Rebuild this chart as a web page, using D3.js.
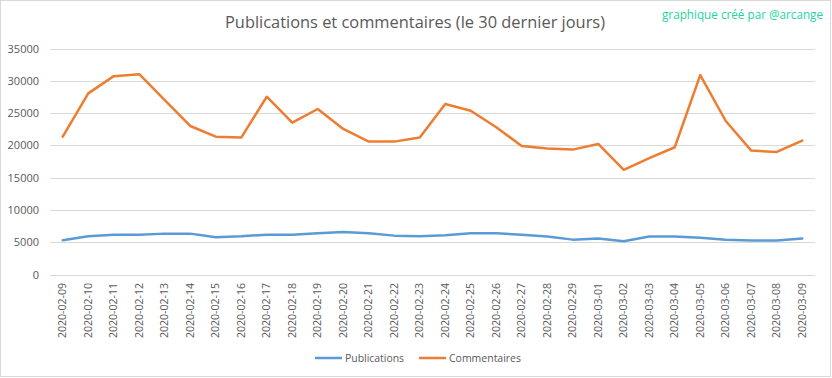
<!DOCTYPE html>
<html>
<head>
<meta charset="utf-8">
<script src="https://cdn.jsdelivr.net/npm/d3@7"></script>
<style>
  html, body { margin: 0; padding: 0; background: #fff; }
  svg { display: block; }
  text { font-family: "Open Sans", sans-serif; fill: #595959; }
</style>
</head>
<body>
<svg id="chart" width="832" height="378"></svg>
<script>
const dates = ["2020-02-09","2020-02-10","2020-02-11","2020-02-12","2020-02-13","2020-02-14","2020-02-15","2020-02-16","2020-02-17","2020-02-18","2020-02-19","2020-02-20","2020-02-21","2020-02-22","2020-02-23","2020-02-24","2020-02-25","2020-02-26","2020-02-27","2020-02-28","2020-02-29","2020-03-01","2020-03-02","2020-03-03","2020-03-04","2020-03-05","2020-03-06","2020-03-07","2020-03-08","2020-03-09"];
const publications = [5290,5910,6170,6170,6330,6330,5760,5910,6170,6170,6380,6590,6380,6020,5910,6070,6380,6380,6170,5870,5400,5560,5140,5870,5870,5710,5400,5250,5250,5560];
const commentaires = [21350,28050,30720,31030,27010,23000,21350,21200,27530,23510,25630,22540,20580,20580,21200,26400,25370,22800,19910,19500,19340,20220,16210,18010,19710,30880,23770,19190,18990,20730];
const yTicks = [0,5000,10000,15000,20000,25000,30000,35000];
const seriesNames = ["Publications","Commentaires"];
const seriesColors = ["#5B9BD5","#ED7D31"];
const titleText = "Publications et commentaires (le 30 dernier jours)";
const creditText = "graphique créé par @arcange";

const svg = d3.select("#chart");

// outer border
svg.append("rect").attr("x",0.5).attr("y",0.5).attr("width",830).attr("height",376)
  .attr("fill","#fff").attr("stroke","#D9D9D9").attr("stroke-width",1);

const x = d3.scaleBand().domain(dates).range([50,815]);
const y = d3.scaleLinear().domain([0,35000]).range([274.5,48.5]);

// gridlines
svg.append("g").selectAll("line").data(yTicks).join("line")
  .attr("x1",50).attr("x2",815)
  .attr("y1",d=>Math.round(y(d))+0.5).attr("y2",d=>Math.round(y(d))+0.5)
  .attr("stroke","#D9D9D9").attr("stroke-width",1);

// y axis
const yAxis = d3.axisLeft(y).tickValues(yTicks).tickSize(0).tickPadding(0).tickFormat(d3.format("d"));
const gy = svg.append("g").attr("transform","translate(39,0)").call(yAxis);
gy.select(".domain").remove();
gy.selectAll("text").attr("font-size","11px").attr("fill","#595959").attr("font-family","Open Sans, sans-serif");

// x axis
const xAxis = d3.axisBottom(x).tickSize(0).tickPadding(0);
const gx = svg.append("g").attr("transform","translate(0,283)").call(xAxis);
gx.select(".domain").remove();
gx.selectAll(".tick text")
  .attr("font-size","10.5px").attr("fill","#595959").attr("font-family","Open Sans, sans-serif")
  .attr("transform","rotate(-90)")
  .attr("text-anchor","end").attr("x",0).attr("y",0).attr("dy","0.35em")
  .attr("textLength",55).attr("lengthAdjust","spacingAndGlyphs");

// lines
const line = d3.line().x((d,i)=>x(dates[i])+x.bandwidth()/2).y(d=>y(d));
[publications, commentaires].forEach((s,k)=>{
  svg.append("path").datum(s).attr("d",line)
    .attr("fill","none").attr("stroke",seriesColors[k]).attr("stroke-width",2.5)
    .attr("stroke-linejoin","round").attr("stroke-linecap","round");
});

// title
svg.append("text").attr("x",415).attr("y",28).attr("text-anchor","middle")
  .attr("font-size","17px").attr("fill","#595959").text(titleText)
  .attr("textLength",380).attr("lengthAdjust","spacingAndGlyphs");

// credit
svg.append("text").attr("x",823).attr("y",18.5).attr("text-anchor","end")
  .attr("font-size","12px").style("fill","#1ED3A0").text(creditText)
  .attr("textLength",161).attr("lengthAdjust","spacingAndGlyphs");

// legend
const legendItems = [{x1:315,x2:342,tx:345,w:59},{x1:419,x2:446,tx:449,w:72}];
const lg = svg.append("g");
legendItems.forEach((it,k)=>{
  lg.append("line").attr("x1",it.x1).attr("x2",it.x2).attr("y1",358).attr("y2",358)
    .attr("stroke",seriesColors[k]).attr("stroke-width",2.5);
  lg.append("text").attr("x",it.tx).attr("y",358).attr("dy","0.35em")
    .attr("font-size","11px").attr("fill","#595959").text(seriesNames[k])
    .attr("textLength",it.w).attr("lengthAdjust","spacingAndGlyphs");
});
</script>
</body>
</html>
